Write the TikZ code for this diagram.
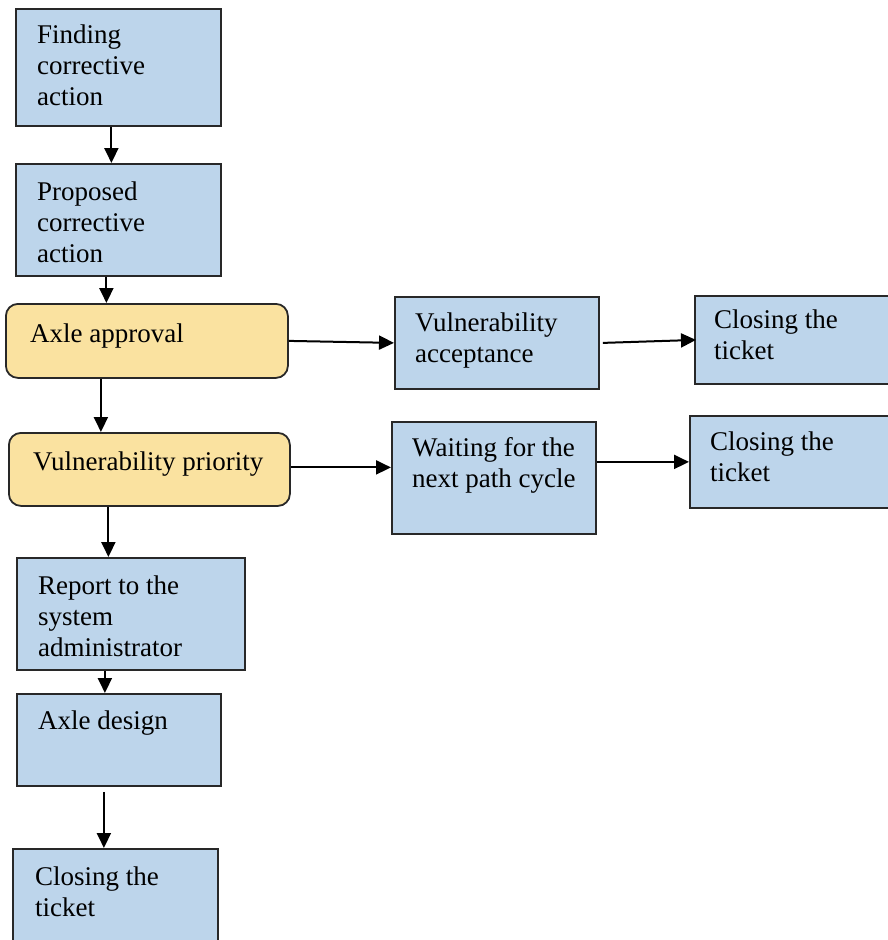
\documentclass[tikz,border=0pt]{standalone}
\usepackage{fontspec}
\setmainfont{Liberation Serif}
\usetikzlibrary{arrows.meta}

\definecolor{stepblue}{RGB}{189,213,235}
\definecolor{stepgold}{RGB}{250,226,160}
\definecolor{stepline}{RGB}{40,40,40}

\tikzset{
  stepbox/.style={draw=stepline, fill=stepblue, line width=1.8pt, anchor=north west, inner sep=0pt},
  gatebox/.style={stepbox, fill=stepgold, rounded corners=12pt},
  steptext/.style={anchor=north west, align=left, inner sep=0pt, font=\fontsize{27}{31}\selectfont},
  flow/.style={line width=2pt, -{Triangle[length=15pt,width=14pt]}}
}

\begin{document}
\begin{tikzpicture}[x=1pt, y=-1pt]
  \useasboundingbox (0,0) rectangle (887,940);

  % left column
  \node[stepbox, minimum width=205pt, minimum height=117pt] (find) at (15,8) {};
  \node[steptext] (findtxt) at (37,25) {Finding\\corrective\\action};

  \node[stepbox, minimum width=205pt, minimum height=112pt] (prop) at (15,163) {};
  \node[steptext] (proptxt) at (37,182) {Proposed\\corrective\\action};

  \node[gatebox, minimum width=282pt, minimum height=74pt] (appr) at (5,303) {};
  \node[steptext] (apprtxt) at (30,324) {Axle approval};

  \node[gatebox, minimum width=281pt, minimum height=73pt] (prio) at (8,432) {};
  \node[steptext] (priotxt) at (33,452) {Vulnerability priority};

  \node[stepbox, minimum width=228pt, minimum height=112pt] (report) at (16,557) {};
  \node[steptext] (reporttxt) at (38,576) {Report to the\\system\\administrator};

  \node[stepbox, minimum width=204pt, minimum height=92pt] (design) at (16,693) {};
  \node[steptext] (designtxt) at (38,711) {Axle design};

  \node[stepbox, minimum width=205pt, minimum height=95pt] (close3) at (12,848) {};
  \node[steptext] (close3txt) at (35,867) {Closing the\\ticket};

  % right side
  \node[stepbox, minimum width=204pt, minimum height=92pt] (accept) at (394,296) {};
  \node[steptext] (accepttxt) at (415,313) {Vulnerability\\acceptance};

  \node[stepbox, minimum width=196pt, minimum height=88pt] (close1) at (694,295) {};
  \node[steptext] (close1txt) at (714,310) {Closing the\\ticket};

  \node[stepbox, minimum width=204pt, minimum height=112pt] (wait) at (391,421) {};
  \node[steptext] (waittxt) at (412,437) {Waiting for the\\next path cycle};

  \node[stepbox, minimum width=201pt, minimum height=92pt] (close2) at (689,415) {};
  \node[steptext] (close2txt) at (710,432) {Closing the\\ticket};

  % arrows down
  \draw[flow] ([xshift=-7pt]find.south) coordinate (a1) -- (a1 |- prop.north);
  \draw[flow] ([xshift=-12pt]prop.south) coordinate (a2) -- (a2 |- appr.north);
  \draw[flow] ([xshift=-46pt]appr.south) coordinate (a3) -- (a3 |- prio.north);
  \draw[flow] ([xshift=-41pt]prio.south) coordinate (a4) -- (a4 |- report.north);
  \draw[flow] ([xshift=-26pt]report.south) coordinate (a5) -- (a5 |- design.north);
  \draw[flow] ([xshift=-15pt,yshift=-5pt]design.south) coordinate (a6) -- (a6 |- close3.north);

  % arrows across
  \draw[flow] (appr.east) -- (accept.west);
  \draw[flow] ([xshift=3pt]accept.east) -- ([xshift=2pt]close1.west);
  \draw[flow] ([yshift=2pt]prio.east) coordinate (a7) -- (a7 -| wait.west);
  \draw[flow] (close2.west -| wait.east) -- (close2.west);
\end{tikzpicture}
\end{document}
